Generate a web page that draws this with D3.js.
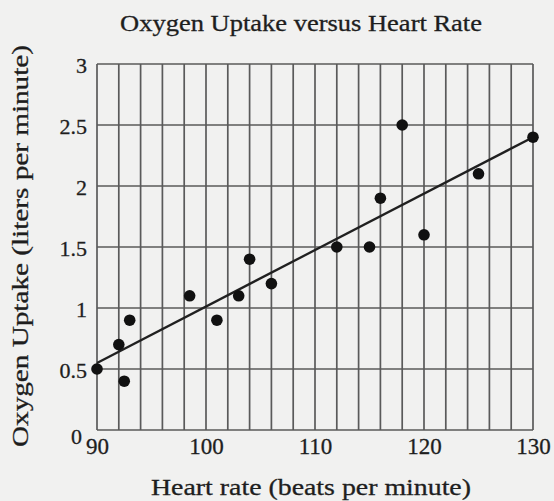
<!DOCTYPE html>
<html>
<head>
<meta charset="utf-8">
<script src="https://cdn.jsdelivr.net/npm/d3@7/dist/d3.min.js"></script>
<style>
  html, body { margin: 0; padding: 0; background: #f1f1f0; }
  svg { display: block; }
  svg text { font-family: 'Liberation Serif', serif; fill: #1e1e1e; stroke: #1e1e1e; stroke-width: 0.3px; }
</style>
</head>
<body>
<script>
// Heart rate (beats per minute) and oxygen uptake (liters per minute)
const heartRate = [90, 92, 92.5, 93, 98.5, 101, 103, 104, 106, 112, 115, 116, 118, 120, 125, 130];
const oxygenUptake = [0.5, 0.7, 0.4, 0.9, 1.1, 0.9, 1.1, 1.4, 1.2, 1.5, 1.5, 1.9, 2.5, 1.6, 2.1, 2.4];

// Fitted trend line end points
const fitX = [90, 130];
const fitY = [0.55, 2.4];

const xTicks = [90, 100, 110, 120, 130];
const yTicks = [0, 0.5, 1, 1.5, 2, 2.5, 3];
const xGrid = d3.range(90, 131, 2);
const yGrid = [0, 0.5, 1, 1.5, 2, 2.5, 3];

const title = "Oxygen Uptake versus Heart Rate";
const xTitle = "Heart rate (beats per minute)";
const yTitle = "Oxygen Uptake (liters per minute)";

const W = 554, H = 501;
const margin = { left: 97, right: 21, top: 64, bottom: 71 };

const svg = d3.select("body").append("svg").attr("width", W).attr("height", H);
svg.append("rect").attr("width", W).attr("height", H).attr("fill", "#f1f1f0");

const x = d3.scaleLinear().domain([90, 130]).range([margin.left, W - margin.right]);
const y = d3.scaleLinear().domain([0, 3]).range([H - margin.bottom, margin.top]);

const gridColor = "#5a5a5a";

// grid
svg.append("g").selectAll("line").data(xGrid).join("line")
  .attr("x1", d => x(d)).attr("x2", d => x(d))
  .attr("y1", y(0)).attr("y2", y(3))
  .attr("stroke", gridColor).attr("stroke-width", 1.7);
svg.append("g").selectAll("line").data(yGrid).join("line")
  .attr("x1", x(90)).attr("x2", x(130))
  .attr("y1", d => y(d)).attr("y2", d => y(d))
  .attr("stroke", gridColor).attr("stroke-width", 1.7);

// axes (labels only; grid forms the frame)
const xAxis = svg.append("g").attr("transform", `translate(0,${y(0)})`)
  .call(d3.axisBottom(x).tickValues(xTicks).tickSize(0).tickPadding(8).tickFormat(d3.format("d")));
xAxis.select(".domain").remove();
xAxis.selectAll("text").attr("font-size", 23);

const yAxis = svg.append("g").attr("transform", `translate(${x(90)},0)`)
  .call(d3.axisLeft(y).tickValues(yTicks).tickSize(0).tickPadding(10).tickFormat(d => String(d)));
yAxis.select(".domain").remove();
yAxis.selectAll("text").attr("font-size", 22).attr("dy", "0.38em");
// the zero label sits a little lower and further left, clear of "90"
yAxis.selectAll(".tick").filter(d => d === 0).select("text").attr("dx", "-5").attr("dy", "0.6em");

// trend line
svg.append("line")
  .attr("x1", x(fitX[0])).attr("y1", y(fitY[0]))
  .attr("x2", x(fitX[1])).attr("y2", y(fitY[1]))
  .attr("stroke", "#202020").attr("stroke-width", 2.3);

// points
svg.append("g").selectAll("circle").data(heartRate).join("circle")
  .attr("cx", d => x(d)).attr("cy", (d, i) => y(oxygenUptake[i]))
  .attr("r", 5.8).attr("fill", "#111");

// titles
svg.append("text").attr("x", 120).attr("y", 31)
  .attr("font-size", 23).attr("textLength", 362).attr("lengthAdjust", "spacingAndGlyphs")
  .text(title);

svg.append("text").attr("x", 151).attr("y", 495)
  .attr("font-size", 24).attr("textLength", 320).attr("lengthAdjust", "spacingAndGlyphs")
  .text(xTitle);

svg.append("text").attr("transform", "translate(28,447) rotate(-90)")
  .attr("font-size", 24).attr("textLength", 402).attr("lengthAdjust", "spacingAndGlyphs")
  .text(yTitle);
</script>
</body>
</html>
